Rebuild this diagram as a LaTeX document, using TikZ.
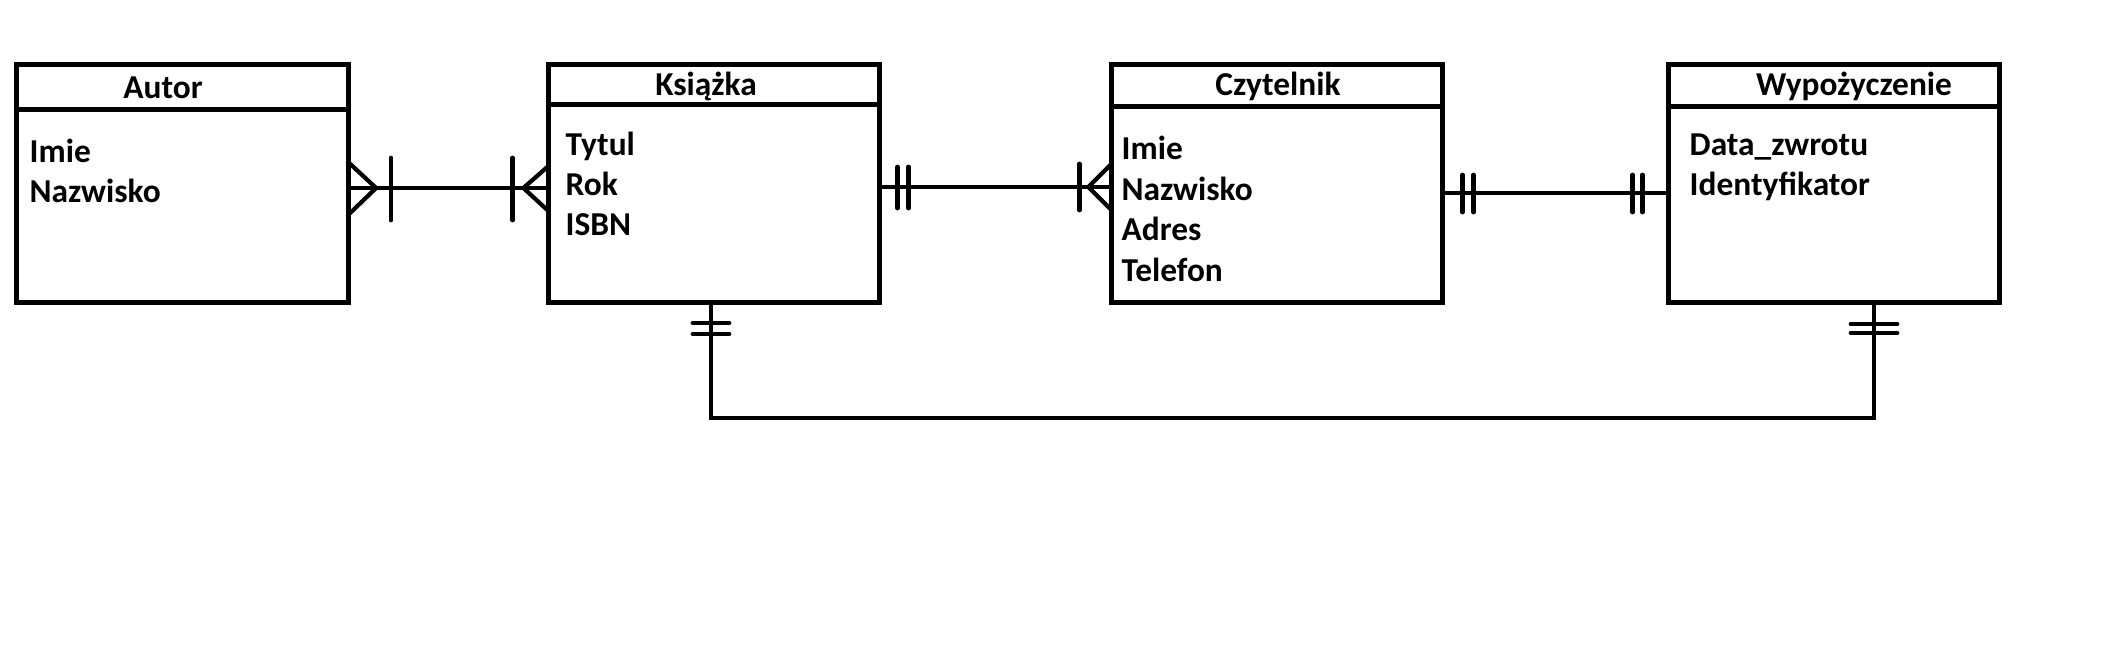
\documentclass[tikz,border=0pt]{standalone}
\usepackage{fontspec}
\setmainfont{Carlito}
\usetikzlibrary{calc}

\tikzset{
  entity/.style={draw, line width=1.45pt, minimum width=3.31cm, minimum height=2.37cm, inner sep=0pt, outer sep=0pt},
  sep/.style={line width=1.45pt},
  title/.style={anchor=base, inner sep=0pt, font=\bfseries\fontsize{9.5}{11}\selectfont},
  attr/.style={anchor=base west, inner sep=0pt, font=\bfseries\fontsize{9.5}{11}\selectfont},
  rel/.style={line width=1.2pt},
  tick/.style={line width=1.35pt, line cap=round},
}

\begin{document}
\begin{tikzpicture}[x=0.01cm, y=-0.01cm]
  \useasboundingbox (0,0) rectangle (2105,669);

  %%%%% entities
  \node[entity] (autor) at (182.5,183.5) {};
  \node[entity] (ksiazka) at (714,183.5) {};
  \node[entity] (czytelnik) at (1277,183.5) {};
  \node[entity] (wyp) at (1834,183.5) {};

  \draw[sep] ($(autor.north west)+(0,45)$) -- ($(autor.north east)+(0,45)$);
  \draw[sep] ($(ksiazka.north west)+(0,40)$) -- ($(ksiazka.north east)+(0,40)$);
  \draw[sep] ($(czytelnik.north west)+(0,42)$) -- ($(czytelnik.north east)+(0,42)$);
  \draw[sep] ($(wyp.north west)+(0,42)$) -- ($(wyp.north east)+(0,42)$);

  \node[title] (autor-t) at (163,98) {Autor};
  \node[title] (ksiazka-t) at (706,95) {Książka};
  \node[title] (czytelnik-t) at (1278,95) {Czytelnik};
  \node[title] (wyp-t) at (1854,95) {Wypożyczenie};

  \foreach \txt [count=\i] in {Imie, Nazwisko}
    \node[attr] (autor-a\i) at (29,122+40*\i) {\txt};
  \foreach \txt [count=\i] in {Tytul, Rok, ISBN}
    \node[attr] (ksiazka-a\i) at (565,115+40*\i) {\txt};
  \foreach \txt [count=\i] in {Imie, Nazwisko, Adres, Telefon}
    \node[attr] (czytelnik-a\i) at (1121,119+40.5*\i) {\txt};
  \foreach \txt [count=\i] in {Data\_zwrotu, Identyfikator}
    \node[attr] (wyp-a\i) at (1689,115+40*\i) {\txt};

  %%%%% Autor -- Ksiazka
  \coordinate (c1a) at (autor.east |- 0,188);
  \coordinate (c1b) at (ksiazka.west |- 0,188);
  \draw[rel] (c1a) -- (c1b);
  \draw[rel] ($(c1a)+(0,-26)$) -- ($(c1a)+(28,0)$) -- ($(c1a)+(0,27)$);
  \draw[tick] ($(c1a)+(43,-30)$) -- ($(c1a)+(43,32)$);
  \draw[rel] ($(c1b)+(0,-22)$) -- ($(c1b)+(-25,0)$) -- ($(c1b)+(0,23)$);
  \draw[tick] ($(c1b)+(-36,-30)$) -- ($(c1b)+(-36,32)$);

  %%%%% Ksiazka -- Czytelnik
  \coordinate (c2a) at (ksiazka.east |- 0,187);
  \coordinate (c2b) at (czytelnik.west |- 0,187);
  \draw[rel] (c2a) -- (c2b);
  \draw[tick] ($(c2a)+(18,-20)$) -- ($(c2a)+(18,21)$);
  \draw[tick] ($(c2a)+(29,-20)$) -- ($(c2a)+(29,21)$);
  \draw[rel] ($(c2b)+(0,-23)$) -- ($(c2b)+(-23,0)$) -- ($(c2b)+(0,23)$);
  \draw[tick] ($(c2b)+(-32,-23)$) -- ($(c2b)+(-32,23)$);

  %%%%% Czytelnik -- Wypozyczenie
  \coordinate (c3a) at (czytelnik.east |- 0,193);
  \coordinate (c3b) at (wyp.west |- 0,193);
  \draw[rel] (c3a) -- (c3b);
  \draw[tick] ($(c3a)+(20,-18)$) -- ($(c3a)+(20,19)$);
  \draw[tick] ($(c3a)+(31,-18)$) -- ($(c3a)+(31,19)$);
  \draw[tick] ($(c3b)+(-36,-18)$) -- ($(c3b)+(-36,19)$);
  \draw[tick] ($(c3b)+(-26,-18)$) -- ($(c3b)+(-26,19)$);

  %%%%% Ksiazka -- Wypozyczenie
  \coordinate (c4a) at ($(ksiazka.south)+(-3,0)$);
  \coordinate (c4b) at ($(wyp.south)+(40,0)$);
  \draw[rel] (c4a) -- ++(0,116) -| (c4b);
  \draw[tick] ($(c4a)+(-18,21)$) -- ($(c4a)+(18,21)$);
  \draw[tick] ($(c4a)+(-18,32)$) -- ($(c4a)+(18,32)$);
  \draw[tick] ($(c4b)+(-23,22)$) -- ($(c4b)+(23,22)$);
  \draw[tick] ($(c4b)+(-23,31)$) -- ($(c4b)+(23,31)$);
\end{tikzpicture}
\end{document}
